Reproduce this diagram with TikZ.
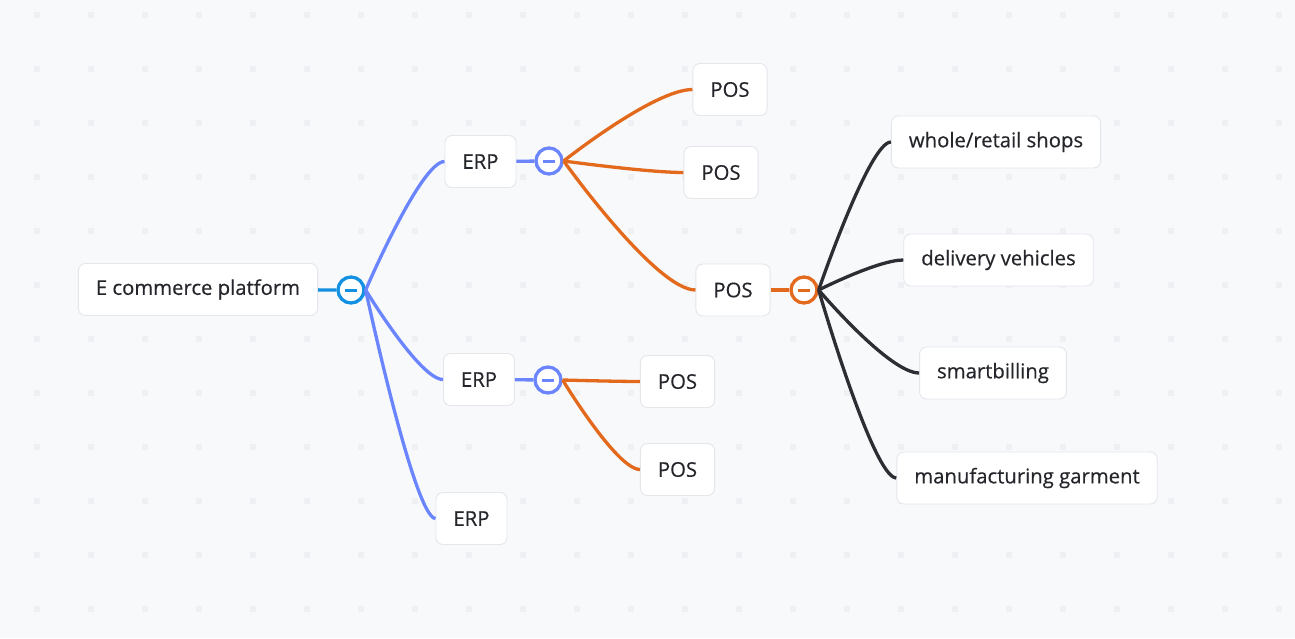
\documentclass[tikz,border=0pt]{standalone}
\usepackage{fontspec}
\setmainfont{Open Sans}
\newfontfamily\mapfont{Open Sans}[FakeBold=0.4]
\usepackage{tikz}
\usetikzlibrary{calc}
\definecolor{rootblue}{HTML}{1290E2}
\definecolor{erpblue}{HTML}{6B85FE}
\definecolor{posorange}{HTML}{E36A1C}
\definecolor{leafdark}{HTML}{2C2E33}
\definecolor{inkgray}{HTML}{24262B}
\definecolor{boxgray}{HTML}{E4E6EA}
\definecolor{bggray}{HTML}{F8F9FB}
\definecolor{dotgray}{HTML}{EEF0F3}
\tikzset{
	mapnode/.style = {rectangle, rounded corners=7pt, draw=boxgray, fill=white, line width=0.9pt, minimum height=52pt, inner xsep=17.5pt, text=inkgray, font=\mapfont\fontsize{20.3}{24}\selectfont},
	collapse/.style = {circle, draw=#1, fill=white, line width=3.3pt, minimum size=26pt, inner sep=0pt,
		path picture={\draw[#1, line width=3pt] ([xshift=-6pt]path picture bounding box.center) -- ([xshift=6pt]path picture bounding box.center);}},
	branch/.style = {draw=#1, line width=3.3pt, to path={.. controls (\tikztostart) and ($(\tikztotarget)!.3!(\tikztostart|-\tikztotarget)$) .. (\tikztotarget)}},
	stub/.style = {draw=#1, line width=3.3pt}
}

\begin{document}
\begin{tikzpicture}[x=1pt, y=-1pt]
		%背景与网格点
		\fill[bggray] (0,0) rectangle (1295,638);
		\useasboundingbox (0,0) rectangle (1295,638);
		\foreach \i in {0,...,23}
			\foreach \j in {0,...,11}
				\fill[dotgray] (34+54*\i, 12+54*\j) rectangle +(6,6);

		%节点
		\node (root) [mapnode] at (198,289.5) {E commerce platform};
		\node (rootc) [collapse=rootblue] at (351,290) {};
		\node (erp1) [mapnode] at (480.5,161.5) {ERP};
		\node (erp1c) [collapse=erpblue] at (549,161) {};
		\node (erp2) [mapnode] at (479,379.5) {ERP};
		\node (erp2c) [collapse=erpblue] at (548,380) {};
		\node (erp3) [mapnode] at (471.5,518.5) {ERP};
		\node (pos1) [mapnode] at (730,89.5) {POS};
		\node (pos2) [mapnode] at (721,172.5) {POS};
		\node (pos3) [mapnode] at (733,290) {POS};
		\node (pos3c) [collapse=posorange] at (804,290) {};
		\node (pos4) [mapnode] at (677.5,381.5) {POS};
		\node (pos5) [mapnode] at (677.5,469.5) {POS};
		\node (shops) [mapnode] at (996,142) {whole/retail shops};
		\node (vehicles) [mapnode] at (998.5,260) {delivery vehicles};
		\node (billing) [mapnode] at (993,373) {smartbilling};
		\node (garment) [mapnode] at (1027,478) {manufacturing garment};

		%连线
		\path [stub=rootblue](root) -- (rootc);
		\path [stub=erpblue](erp1) -- (erp1c);
		\path [stub=erpblue](erp2) -- (erp2c);
		\path [stub=posorange](pos3) -- (pos3c);
		\path [branch=erpblue](rootc.east) to (erp1.west);
		\path [branch=erpblue](rootc.east) to (erp2.west);
		\path [branch=erpblue](rootc.east) to (erp3.west);
		\path [branch=posorange](erp1c.east) to (pos1.west);
		\path [branch=posorange](erp1c.east) to (pos2.west);
		\path [branch=posorange](erp1c.east) to (pos3.west);
		\path [branch=posorange](erp2c.east) to (pos4.west);
		\path [branch=posorange](erp2c.east) to (pos5.west);
		\path [branch=leafdark](pos3c.east) to (shops.west);
		\path [branch=leafdark](pos3c.east) to (vehicles.west);
		\path [branch=leafdark](pos3c.east) to (billing.west);
		\path [branch=leafdark](pos3c.east) to (garment.west);
\end{tikzpicture}
\end{document}
